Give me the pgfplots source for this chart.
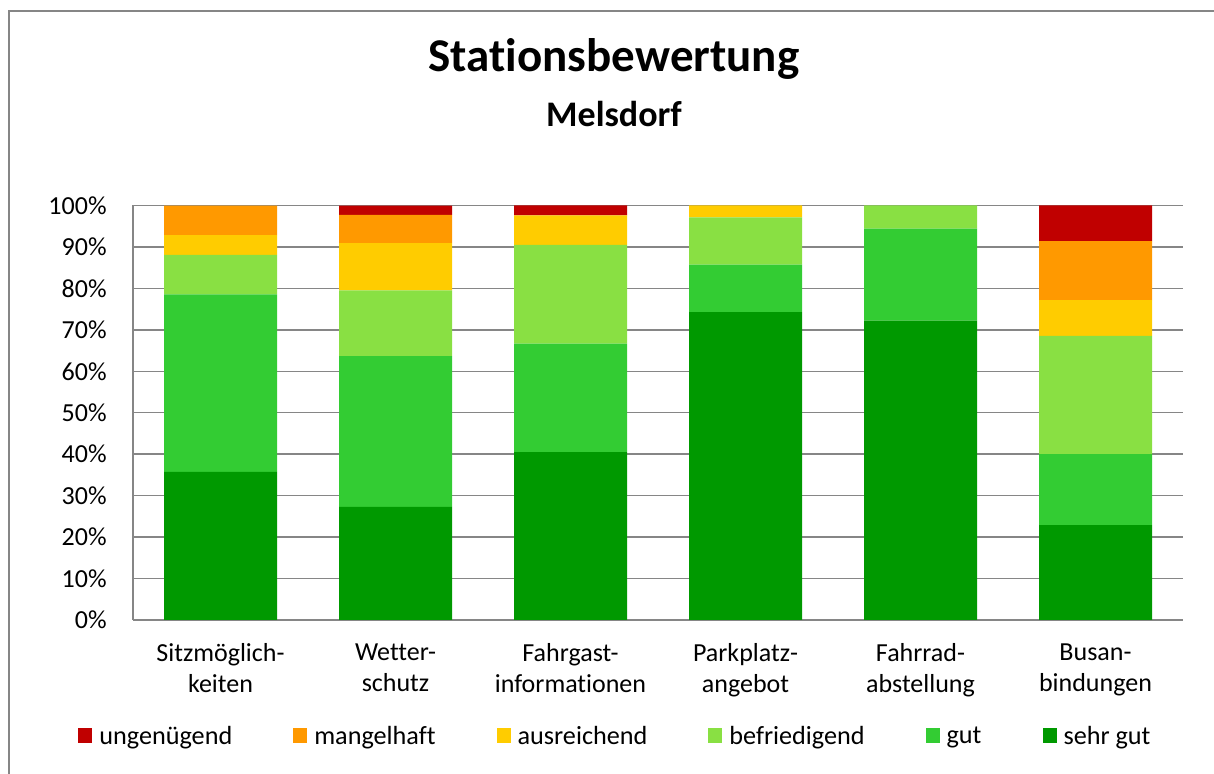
\documentclass[border=0pt]{standalone}
\usepackage{fontspec}
\setmainfont[Ligatures=NoCommon]{Carlito}
\usepackage{pgfplots}
\pgfplotsset{compat=1.18}
\definecolor{cUngen}{HTML}{C00000}
\definecolor{cMangel}{HTML}{FF9900}
\definecolor{cAusr}{HTML}{FFCC00}
\definecolor{cBefr}{HTML}{89E043}
\definecolor{cGut}{HTML}{33CC33}
\definecolor{cSehr}{HTML}{009900}
\definecolor{gridGray}{HTML}{868686}
\begin{document}
\begin{tikzpicture}
\useasboundingbox (0,0) rectangle (607pt,387pt);
% chart frame (cut off at right and bottom)
\draw[gridGray, line width=0.75pt] (4.5pt,-5pt) -- (4.5pt,381.5pt) -- (620pt,381.5pt);
\node[anchor=base, font=\bfseries\fontsize{23.5}{28}\selectfont] at (307pt,351pt) {Stationsbewertung};
\node[anchor=base, font=\bfseries\fontsize{18}{21}\selectfont] at (307pt,323.5pt) {Melsdorf};
\begin{axis}[
  at={(66.5pt,77pt)}, anchor=south west,
  scale only axis,
  width=525pt, height=207.25pt,
  ybar stacked,
  bar width=56.5pt,
  xmin=-0.5, xmax=5.5,
  ymin=0, ymax=100,
  xtick={0,1,2,3,4,5},
  xticklabels={{Sitzmöglich-\\keiten},{Wetter-\\schutz},{Fahrgast-\\informationen},{Parkplatz-\\angebot},{Fahrrad-\\abstellung},{Busan-\\bindungen}},
  ytick={0,10,20,30,40,50,60,70,80,90,100},
  yticklabels={0\%,10\%,20\%,30\%,40\%,50\%,60\%,70\%,80\%,90\%,100\%},
  major tick length=0pt,
  axis x line=bottom, axis y line=left,
  axis line style={-, gridGray, line width=0.75pt},
  ymajorgrids,
  grid style={gridGray, line width=0.75pt},
  tick label style={font=\fontsize{13}{15.5}\selectfont, text=black},
  xticklabel style={align=center, inner sep=0pt, yshift=-11.5pt},
  yticklabel style={inner sep=0pt, xshift=-13pt},
  legend columns=6,
  reverse legend,
  legend style={at={(-0.0524,-0.282)}, anchor=west, draw=none, fill=none,
    inner sep=0pt, font=\fontsize{13.1}{15.5}\selectfont,
    nodes={inner sep=0pt},
    /tikz/every odd column/.append style={column sep=3.5pt},
    /tikz/every even column/.append style={column sep=30.5pt}},
  legend image code/.code={\fill[#1] (0pt,-3.0pt) rectangle (7pt,4.5pt);},
]
\addplot[fill=cSehr, draw=none] coordinates {(0,35.71) (1,27.27) (2,40.48) (3,74.29) (4,72.22) (5,22.86)};
\addplot[fill=cGut, draw=none] coordinates {(0,42.86) (1,36.36) (2,26.19) (3,11.43) (4,22.22) (5,17.14)};
\addplot[fill=cBefr, draw=none] coordinates {(0,9.52) (1,15.91) (2,23.81) (3,11.43) (4,5.56) (5,28.57)};
\addplot[fill=cAusr, draw=none] coordinates {(0,4.76) (1,11.36) (2,7.14) (3,2.86) (4,0) (5,8.57)};
\addplot[fill=cMangel, draw=none] coordinates {(0,7.14) (1,6.82) (2,0) (3,0) (4,0) (5,14.29)};
\addplot[fill=cUngen, draw=none] coordinates {(0,0) (1,2.27) (2,2.38) (3,0) (4,0) (5,8.57)};
\legend{sehr gut, gut, befriedigend, ausreichend, mangelhaft, ungenügend}
\end{axis}
\end{tikzpicture}
\end{document}
